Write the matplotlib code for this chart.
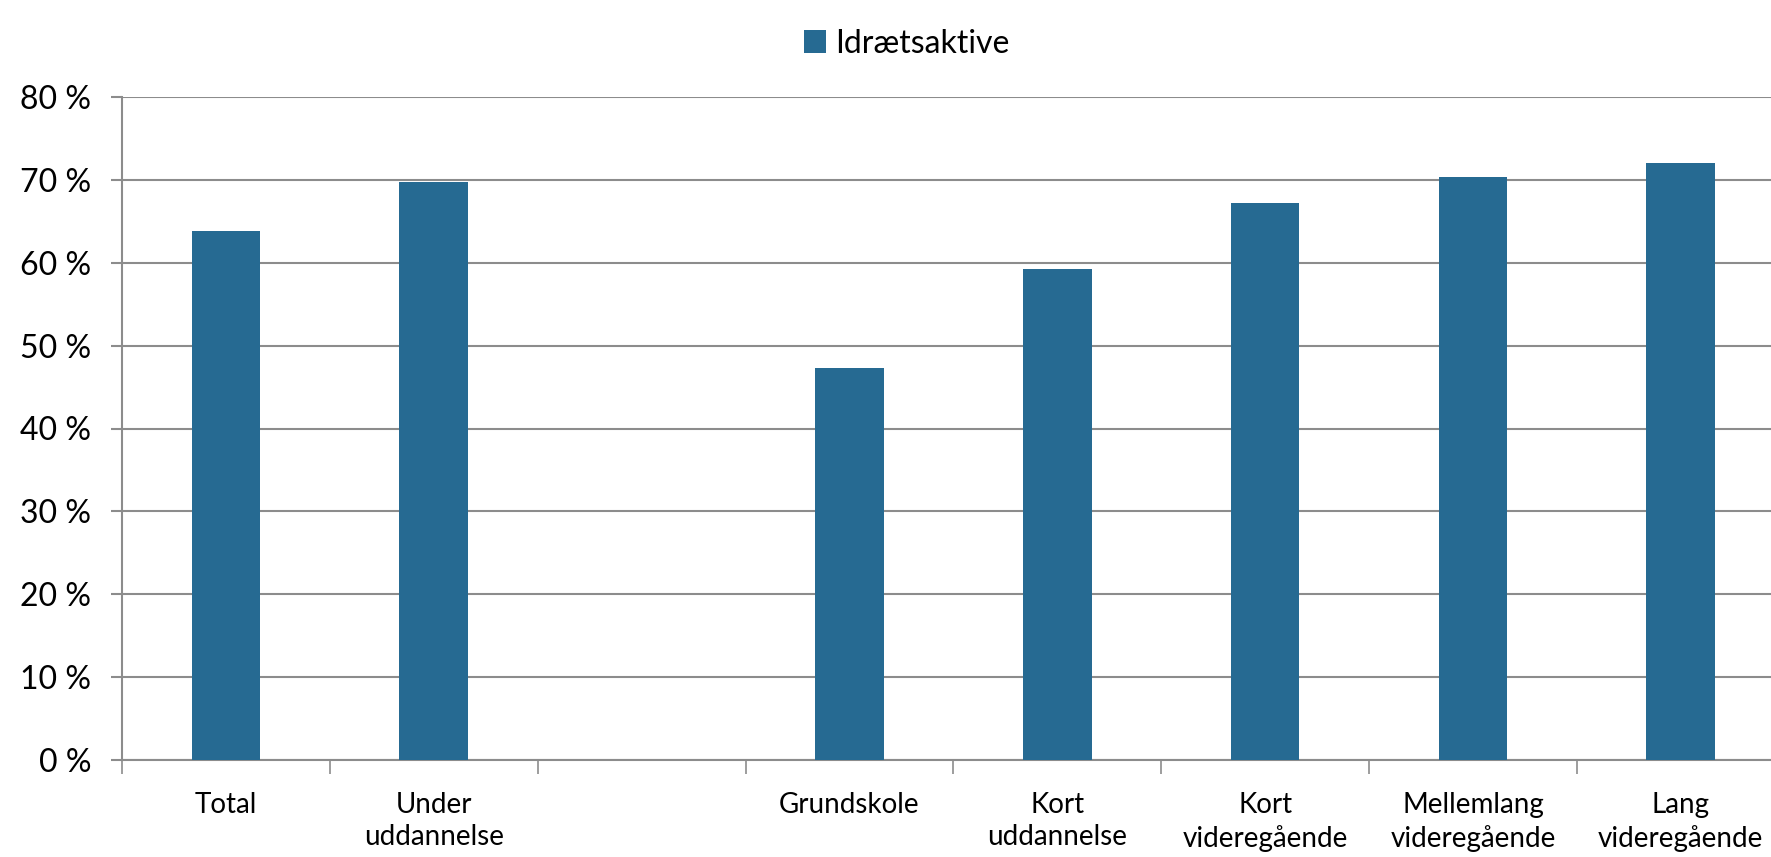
import numpy as np
import matplotlib.pyplot as plt

plt.rcParams['font.family'] = ['Lato', 'DejaVu Sans']

categories = [
    "Total",
    "Under\nuddannelse",
    "",
    "Grundskole",
    "Kort\nuddannelse",
    "Kort\nvideregående",
    "Mellemlang\nvideregående",
    "Lang\nvideregående",
]
values = [63.8, 69.7, np.nan, 47.3, 59.3, 67.2, 70.3, 72.0]
series_name = "Idrætsaktive"
yticks = [0, 10, 20, 30, 40, 50, 60, 70, 80]

bar_color = "#266a92"
grid_color = "#8c8c8c"

fig = plt.figure(figsize=(17.71, 8.57), dpi=100)
# axes reaches past the right edge, like the cropped original
ax = fig.add_axes([0.0689, 0.1132, 0.9388, 0.7736])

x = np.arange(len(categories))
ax.bar(x, values, width=0.33, color=bar_color, label=series_name, zorder=3)

ax.set_xlim(-0.5, len(categories) - 0.5)
ax.set_ylim(0, 80)
ax.set_yticks(yticks)
ax.set_yticklabels([f"{v} %" for v in yticks], fontsize=23)
ax.yaxis.grid(True, color=grid_color, linewidth=1.5, zorder=0)

# category labels centred, tick marks between categories
ax.set_xticks(x)
ax.set_xticklabels(categories, fontsize=20, linespacing=1.3)
ax.tick_params(axis="x", length=0, pad=23)
ax.set_xticks(np.arange(len(categories) + 1) - 0.5, minor=True)
ax.tick_params(axis="x", which="minor", length=10, width=1.2, color=grid_color)
ax.tick_params(axis="y", length=8, width=1.5, color=grid_color, pad=14)

for s in ["top", "right"]:
    ax.spines[s].set_visible(False)
ax.spines["left"].set_color(grid_color)
ax.spines["left"].set_linewidth(1.5)
ax.spines["bottom"].set_color(grid_color)
ax.spines["bottom"].set_linewidth(1.5)

fig.legend(loc="upper center", bbox_to_anchor=(0.512, 1.0), frameon=False,
           fontsize=23, handlelength=0.7, handleheight=0.7, handletextpad=0.3)

fig.savefig("out.png", dpi=100)
